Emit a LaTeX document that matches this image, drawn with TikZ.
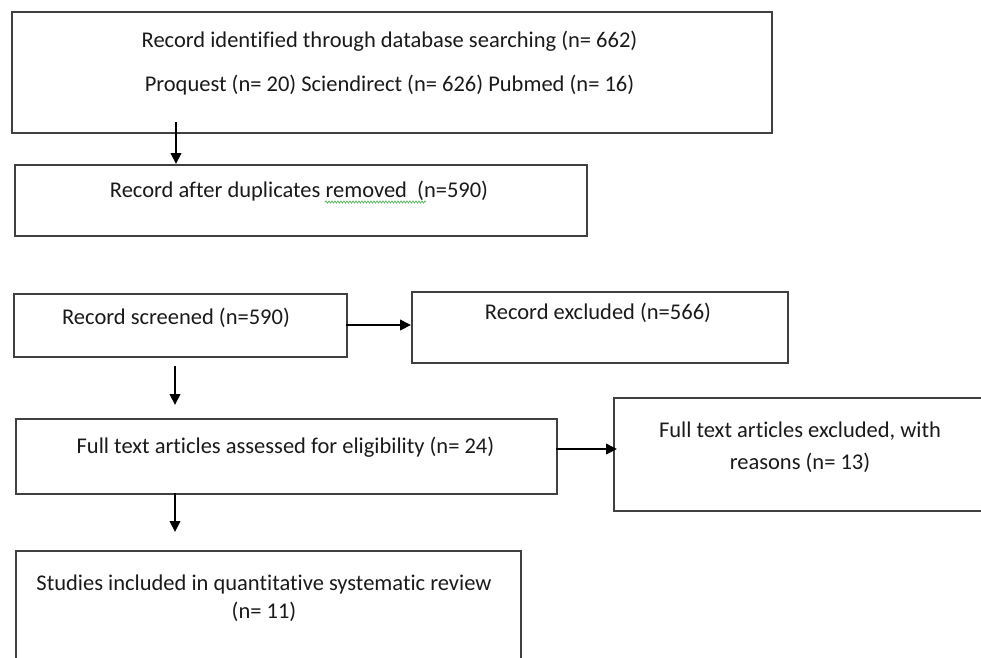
\documentclass[tikz,border=0pt]{standalone}
\usepackage{fontspec}
\setmainfont{Carlito}[Ligatures={NoCommon}]
\usetikzlibrary{arrows.meta,decorations.pathmorphing}
\definecolor{boxgray}{HTML}{404040}
\definecolor{wavegreen}{HTML}{5FB35F}
\definecolor{txtcol}{HTML}{1A1A1A}
\begin{document}
\begin{tikzpicture}[x=1pt,y=-1pt,
  box/.style={draw=boxgray, line width=1.5pt, inner sep=0pt, anchor=north west},
  txt/.style={inner sep=0pt, align=center, text=txtcol, font=\fontsize{22.5}{32}\selectfont},
  arr/.style={line width=2pt, -{Triangle[length=11pt,width=10.5pt]}}]
\useasboundingbox (0,0) rectangle (981,657);
\clip (0,0) rectangle (981,657);
% boxes
\node[box, minimum width=760pt, minimum height=121pt] (b1) at (11,11) {};
\node[box, minimum width=572pt, minimum height=71pt] (b2) at (14,164) {};
\node[box, minimum width=333pt, minimum height=63pt] (b3) at (13,293) {};
\node[box, minimum width=376pt, minimum height=71pt] (b4) at (411,291) {};
\node[box, minimum width=541pt, minimum height=75pt] (b5) at (15,418) {};
\node[box, minimum width=380pt, minimum height=113pt] (b6) at (613,397) {};
\node[box, minimum width=505pt, minimum height=130pt] (b7) at (15,550) {};
% texts
\node[txt] (t1a) at (389.5,41) {Record identified through database searching (n= 662)};
\node[txt] (t1b) at (389.5,85) {Proquest (n= 20) Sciendirect (n= 626) Pubmed (n= 16)};
\node[txt] (t2) at (299,191) {Record after duplicates removed\ \ (n=590)};
\node[txt] (t3) at (176,318) {Record screened (n=590)};
\node[txt] (t4) at (598,313) {Record excluded (n=566)};
\node[txt] (t5) at (285.5,447) {Full text articles assessed for eligibility (n= 24)};
\node[txt] (t6) at (800,447) {Full text articles excluded, with\\reasons (n= 13)};
\node[txt, font=\fontsize{22.5}{28}\selectfont] (t7) at (264,598) {Studies included in quantitative systematic review\\(n= 11)};
% spell-check underline
\coordinate (w1) at (325,202);
\coordinate (w2) at (426,202);
\draw[wavegreen, line width=0.8pt, decorate, decoration={snake, amplitude=1pt, segment length=3pt}] (w1) -- (w2);
% arrows
\coordinate (a1) at (176,122);
\draw[arr] (a1) -- (a1 |- b2.north);
\coordinate (a2) at (346,325);
\draw[arr] (a2) -- (a2 -| b4.west);
\coordinate (a3s) at (175,366);
\coordinate (a3e) at (175,405);
\draw[arr] (a3s) -- (a3e);
\coordinate (a4s) at (556,449);
\coordinate (a4e) at (617,449);
\draw[arr] (a4s) -- (a4e);
\coordinate (a5s) at (175,493);
\coordinate (a5e) at (175,532);
\draw[arr] (a5s) -- (a5e);
\end{tikzpicture}
\end{document}
